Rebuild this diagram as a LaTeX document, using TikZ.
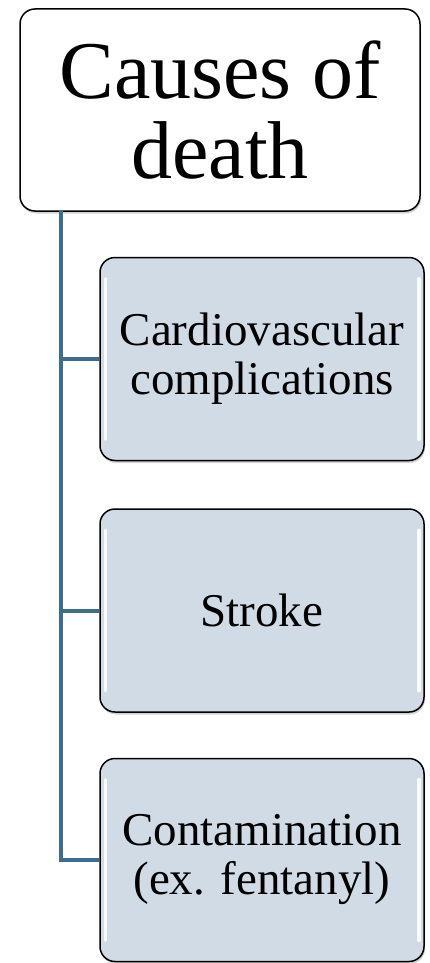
\documentclass[tikz,border=0pt]{standalone}
\usepackage{fontspec}
\setmainfont{Liberation Serif}
\usepackage{xcolor}
\definecolor{steel}{HTML}{3B6E8E}
\definecolor{mist}{HTML}{D1DBE5}
\usetikzlibrary{positioning,shadows}
\tikzset{
    rootbox/.style={draw=black, fill=white, rounded corners=15pt, line width=1.5pt, align=center,
        minimum width=400pt, minimum height=202pt, inner sep=0pt,
        font=\fontsize{82}{80}\selectfont,
        drop shadow={opacity=0.35, shadow xshift=1pt, shadow yshift=-2.5pt}},
    causebox/.style={draw=black, fill=mist, rounded corners=15pt, line width=1.5pt, align=center,
        minimum width=324pt, minimum height=203pt, inner sep=0pt,
        font=\fontsize{47}{49}\selectfont,
        drop shadow={opacity=0.35, shadow xshift=1pt, shadow yshift=-2.5pt}},
    link/.style={draw=steel, line width=4pt},
    gloss/.style={draw=white, line width=3.5pt, line cap=round, opacity=0.9}
}

\begin{document}
\begin{tikzpicture}[x=1pt, y=-1pt]
  \useasboundingbox (0,0) rectangle (429,963);

  % Top level
  \node[rootbox] (causes) at (220,110) {Causes of\\death};

  % Causes
  \node[causebox] (cardio) at (262,359) {Cardiovascular\\complications};
  \node[causebox] (stroke) at (262,610.5) {Stroke};
  \node[causebox] (contam) at (262,860) {Contamination\\(ex. fentanyl)};

  % Highlights on the shaded boxes
  \foreach \n in {cardio,stroke,contam} {
    \draw[gloss] ([xshift=6pt,yshift=-22pt]\n.north west) -- ([xshift=6pt,yshift=22pt]\n.south west);
    \draw[gloss] ([xshift=-6pt,yshift=-22pt]\n.north east) -- ([xshift=-6pt,yshift=22pt]\n.south east);
  }

  % Connectors
  \coordinate (trunk) at ([xshift=42pt,yshift=2pt]causes.south west);
  \draw[link] (trunk) |- (cardio.west);
  \draw[link] (trunk) |- (stroke.west);
  \draw[link] (trunk) |- (contam.west);
\end{tikzpicture}
\end{document}
